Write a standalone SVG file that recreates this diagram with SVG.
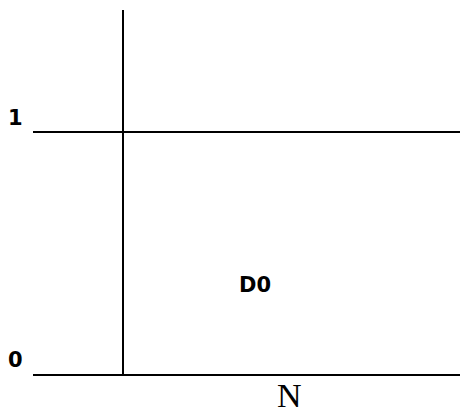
<svg xmlns="http://www.w3.org/2000/svg" width="460" height="410" viewBox="0 0 460 410">
<style>
.ln{stroke:#000;stroke-width:2;fill:none}
.lb{font-family:"DejaVu Sans",Verdana,sans-serif;font-weight:bold;font-size:21px;fill:#000}
.ax{font-family:"Liberation Serif","Times New Roman",serif;font-size:34px;fill:#000}
</style>
<rect width="460" height="410" fill="#fff"/>
<g id="connectors">
<line class="ln" x1="123" y1="10" x2="123" y2="375"/>
<line class="ln" x1="33" y1="132" x2="460" y2="132"/>
<line class="ln" x1="33" y1="375" x2="460" y2="375"/>
</g>
<g id="label-1"><text class="lb" x="8" y="125">1</text></g>
<g id="label-0"><text class="lb" x="8" y="367">0</text></g>
<g id="D0"><text class="lb" x="239" y="292">D0</text></g>
<g id="label-N"><text class="ax" x="277" y="407">N</text></g>
</svg>
